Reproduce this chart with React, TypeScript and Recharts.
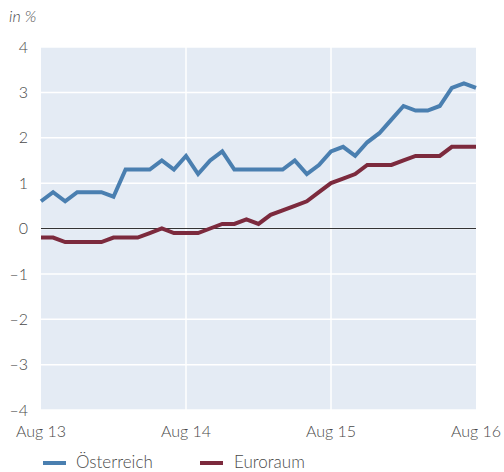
import {
  LineChart,
  Line,
  XAxis,
  YAxis,
  CartesianGrid,
  ReferenceLine,
} from 'recharts';

const months = [
  'Aug 13', 'Sep 13', 'Okt 13', 'Nov 13', 'Dez 13',
  'Jan 14', 'Feb 14', 'Mär 14', 'Apr 14', 'Mai 14', 'Jun 14', 'Jul 14', 'Aug 14',
  'Sep 14', 'Okt 14', 'Nov 14', 'Dez 14',
  'Jan 15', 'Feb 15', 'Mär 15', 'Apr 15', 'Mai 15', 'Jun 15', 'Jul 15', 'Aug 15',
  'Sep 15', 'Okt 15', 'Nov 15', 'Dez 15',
  'Jan 16', 'Feb 16', 'Mär 16', 'Apr 16', 'Mai 16', 'Jun 16', 'Jul 16', 'Aug 16',
];

const oesterreich = [
  0.6, 0.8, 0.6, 0.8, 0.8, 0.8, 0.7, 1.3, 1.3, 1.3, 1.5, 1.3, 1.6,
  1.2, 1.5, 1.7, 1.3, 1.3, 1.3, 1.3, 1.3, 1.5, 1.2, 1.4, 1.7,
  1.8, 1.6, 1.9, 2.1, 2.4, 2.7, 2.6, 2.6, 2.7, 3.1, 3.2, 3.1,
];

const euroraum = [
  -0.2, -0.2, -0.3, -0.3, -0.3, -0.3, -0.2, -0.2, -0.2, -0.1, 0, -0.1, -0.1,
  -0.1, 0, 0.1, 0.1, 0.2, 0.1, 0.3, 0.4, 0.5, 0.6, 0.8, 1.0,
  1.1, 1.2, 1.4, 1.4, 1.4, 1.5, 1.6, 1.6, 1.6, 1.8, 1.8, 1.8,
];

const xTicks = ['Aug 13', 'Aug 14', 'Aug 15', 'Aug 16'];
const yTicks = [-4, -3, -2, -1, 0, 1, 2, 3, 4];

const BLUE = '#4a7fb0';
const RED = '#7c2a3d';
const TEXT = '#4a4a4a';
const FONT = 'Lato, "Open Sans", sans-serif';

const data = months.map((m, i) => ({
  month: m,
  at: oesterreich[i],
  ea: euroraum[i],
}));

const fmtY = (v: number) => (v < 0 ? `–${Math.abs(v)}` : `${v}`);

const tickStyle = { fill: TEXT, fontSize: 16, fontFamily: FONT, fontWeight: 300 };

export default function App() {
  return (
    <div
      style={{
        position: 'absolute',
        left: 0,
        top: 0,
        width: 504,
        height: 472,
        background: '#fff',
        fontFamily: FONT,
        color: TEXT,
      }}
    >
      <div
        style={{
          position: 'absolute',
          left: 9,
          top: 6,
          fontSize: 16,
          fontStyle: 'italic',
          fontWeight: 300,
        }}
      >
        in %
      </div>
      <LineChart
        width={504}
        height={472}
        data={data}
        margin={{ top: 47, right: 28, bottom: 0, left: 0 }}
      >
        <CartesianGrid
          vertical={false}
          stroke="#ffffff"
          strokeWidth={1.5}
          fill="#e4ebf4"
        />
        <XAxis
          dataKey="month"
          ticks={xTicks}
          interval={0}
          height={62}
          tickLine={false}
          axisLine={false}
          tickMargin={10}
          tick={tickStyle}
        />
        <YAxis
          domain={[-4, 4]}
          ticks={yTicks}
          width={41}
          tickLine={false}
          axisLine={false}
          tickMargin={7}
          tickFormatter={fmtY}
          tick={tickStyle}
        />
        <ReferenceLine x="Aug 14" stroke="#ffffff" strokeWidth={1.5} />
        <ReferenceLine x="Aug 15" stroke="#ffffff" strokeWidth={1.5} />
        <ReferenceLine y={0} stroke="#333333" strokeWidth={1} />
        <Line
          type="linear"
          dataKey="at"
          stroke={BLUE}
          strokeWidth={4}
          dot={false}
          isAnimationActive={false}
        />
        <Line
          type="linear"
          dataKey="ea"
          stroke={RED}
          strokeWidth={4}
          dot={false}
          isAnimationActive={false}
        />
      </LineChart>
      <div style={{ position: 'absolute', left: 0, top: 451, width: 504, height: 21, fontSize: 17, fontWeight: 300 }}>
        <span style={{ position: 'absolute', left: 43, top: 10, width: 23, height: 4, background: BLUE }} />
        <span style={{ position: 'absolute', left: 76, top: 0, lineHeight: '21px' }}>Österreich</span>
        <span style={{ position: 'absolute', left: 200, top: 10, width: 23, height: 4, background: RED }} />
        <span style={{ position: 'absolute', left: 234, top: 0, lineHeight: '21px' }}>Euroraum</span>
      </div>
    </div>
  );
}
